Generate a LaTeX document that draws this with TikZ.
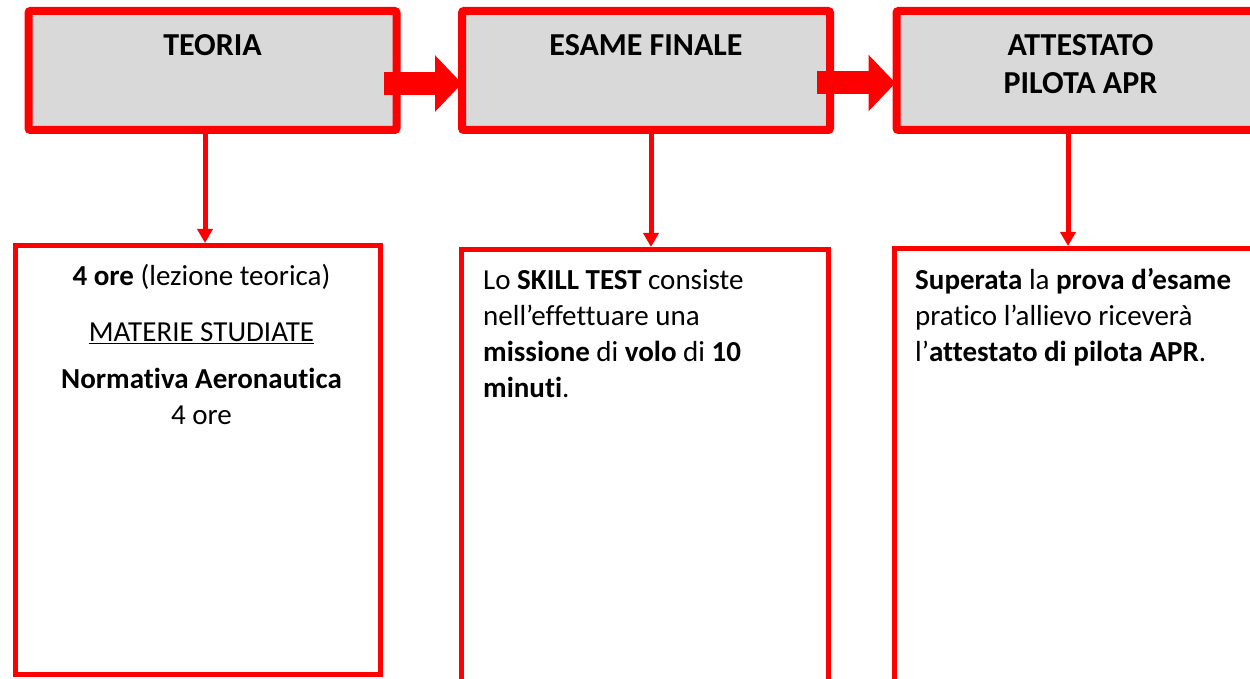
\documentclass[tikz,border=0pt]{standalone}
\usepackage{fontspec}
\setmainfont{Carlito}[Ligatures={NoCommon,NoContextual}]
\usetikzlibrary{arrows.meta}
\definecolor{boxred}{HTML}{FF0000}
\definecolor{boxgray}{HTML}{D9D9D9}

\begin{document}
\begin{tikzpicture}[x=1pt, y=-1pt,
    header/.style={draw=boxred, fill=boxgray, line width=8pt,
      rounded corners=2pt, minimum width=368pt, minimum height=119pt},
    htitle/.style={anchor=north, align=center, inner sep=0pt,
      font=\fontsize{32}{38}\selectfont\bfseries},
    content/.style={draw=boxred, line width=5pt},
    body/.style={inner sep=0pt, font=\fontsize{29}{36}\selectfont},
    flow/.style={draw=boxred, line width=5pt,
      -{Triangle[length=14pt, width=15pt]}},
    bigarrow/.style={draw=boxred, line width=23pt,
      -{Triangle[length=27pt, width=55pt]}}]
    \useasboundingbox (0,0) rectangle (1250,679);

    % top row
    \node [header] (teoria) at (212.5, 70.5) {};
    \node [header] (esame) at (646, 70.5) {};
    \node [header] (attestato) at (1080.5, 70.5) {};

    \node [htitle] (teoriatxt) at ([yshift=-27pt]teoria.north) {TEORIA};
    \node [htitle] (esametxt) at ([yshift=-27pt]esame.north) {ESAME FINALE};
    \node [htitle] (attestatotxt) at ([yshift=-27pt]attestato.north)
    {ATTESTATO\\PILOTA APR};

    \draw [bigarrow] ([xshift=-17pt,yshift=-13pt]teoria.east) --
    ([xshift=4pt,yshift=-13pt]esame.west);
    \draw [bigarrow] ([xshift=-17pt,yshift=-12.5pt]esame.east) --
    ([xshift=3pt,yshift=-12.5pt]attestato.west);

    % bottom row
    \node [content, minimum width=365pt, minimum height=429pt]
    (teoriabox) at (198, 460) {};
    \node [content, minimum width=367pt, minimum height=448pt]
    (esamebox) at (645, 473.5) {};
    \node [content, minimum width=365pt, minimum height=449pt]
    (attestatobox) at (1077, 473) {};

    \draw [flow] ([xshift=-7.5pt]teoria.south) --
    ([xshift=-7.5pt]teoria.south |- teoriabox.north);
    \draw [flow] ([xshift=5pt]esame.south) --
    ([xshift=5pt]esame.south |- esamebox.north);
    \draw [flow] ([xshift=-12.5pt]attestato.south) --
    ([xshift=-12.5pt]attestato.south |- attestatobox.north);

    \node [body, anchor=north, align=center] (teoriatext) at (201.5, 264)
    {\textbf{4 ore} (lezione teorica)\\[20pt]
      \underline{MATERIE STUDIATE}\\[11pt]
      \textbf{Normativa Aeronautica}\\
      4 ore};

    \node [body, anchor=north west, align=left] (esametext) at (483, 269)
    {Lo \textbf{SKILL TEST} consiste\\
      nell’effettuare una\\
      \textbf{missione} di \textbf{volo} di \textbf{10}\\
      \textbf{minuti}.};

    \node [body, anchor=north west, align=left] (attestatotext) at (915, 268)
    {\textbf{Superata} la \textbf{prova d’esame}\\
      pratico l’allievo riceverà\\
      l’\textbf{attestato di pilota APR}.};
  \end{tikzpicture}
\end{document}
